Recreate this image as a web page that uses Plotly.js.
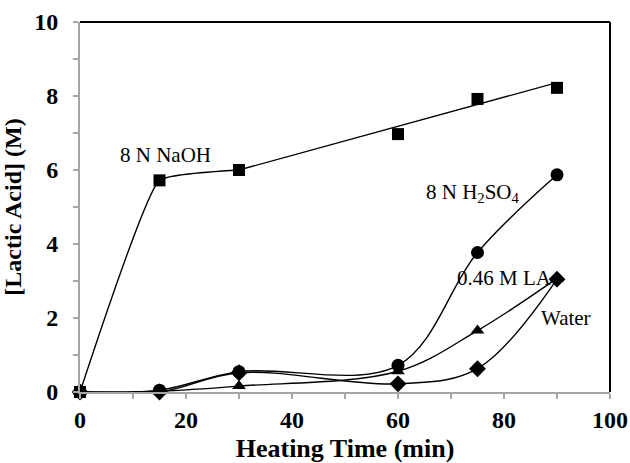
<!DOCTYPE html>
<html>
<head>
<meta charset="utf-8">
<script src="https://cdn.plot.ly/plotly-3.0.1.min.js"></script>
<style>html,body{margin:0;padding:0;background:#fff;}#chart{width:630px;height:463px;}</style>
</head>
<body>
<div id="chart"></div>
<script>
// Heating time (min)
var timeMin = [0, 15, 30, 60, 75, 90];
// Lactic acid concentration (M)
var naoh = [0, 5.72, 6.0, 6.97, 7.92, 8.22];
var h2so4 = [0, 0.05, 0.55, 0.72, 3.77, 5.87];
var la046 = [0, 0.02, 0.16, 0.56, 1.66, 3.07];
var water = [0, 0.0, 0.52, 0.22, 0.63, 3.05];
// NaOH fitted curve (smoothed start, linear after 30 min)
var naohCurveX = [0, 15, 30];
var naohCurveY = [0, 5.72, 6.0];
var naohLineX = [30, 90];
var naohLineY = [6.0, 8.36];
// Series labels
var labelText = ['8 N NaOH', '8 N H<sub>2</sub>SO<sub>4</sub>', '0.46 M LA', 'Water'];
var labelX = [16.2, 74.2, 80.0, 91.7];
var labelY = [6.4, 5.38, 3.07, 2.0];

var serif = 'Liberation Serif';
var lineStyle = {color: '#000', width: 1.4};

var traces = [
  {x: naohCurveX, y: naohCurveY, mode: 'lines', line: Object.assign({shape: 'spline', smoothing: 0.35}, lineStyle), hoverinfo: 'skip'},
  {x: naohLineX, y: naohLineY, mode: 'lines', line: lineStyle, hoverinfo: 'skip'},
  {x: timeMin, y: water, mode: 'lines+markers', line: Object.assign({shape: 'spline', smoothing: 1}, lineStyle), marker: {symbol: 'diamond', size: 13, color: '#000'}},
  {x: timeMin, y: la046, mode: 'lines+markers', line: Object.assign({shape: 'spline', smoothing: 1}, lineStyle), marker: {symbol: 'triangle-up', size: 12, color: '#000'}},
  {x: timeMin, y: h2so4, mode: 'lines+markers', line: Object.assign({shape: 'spline', smoothing: 1}, lineStyle), marker: {symbol: 'circle', size: 13, color: '#000'}},
  {x: timeMin, y: naoh, mode: 'markers', marker: {symbol: 'square', size: 12, color: '#000'}}
];
traces.forEach(function(t){ t.cliponaxis = false; t.showlegend = false; });

var annotations = labelText.map(function(txt, i){
  return {x: labelX[i], y: labelY[i], xref: 'x', yref: 'y', text: txt, showarrow: false,
          font: {family: serif, size: 21, color: '#000'}, xanchor: 'center', yanchor: 'middle'};
});

var layout = {
  width: 630, height: 463,
  margin: {l: 80, r: 20, t: 22, b: 71},
  paper_bgcolor: '#fff', plot_bgcolor: '#fff',
  showlegend: false,
  xaxis: {
    range: [0, 100], dtick: 20, tick0: 0,
    showgrid: false, zeroline: false,
    showline: true, linecolor: '#a6a6a6', linewidth: 2,
    ticks: 'outside', ticklen: 5, tickcolor: '#a6a6a6', tickwidth: 1.5,
    minor: {dtick: 10, ticks: 'outside', ticklen: 5, tickcolor: '#a6a6a6', tickwidth: 1.5, showgrid: false},
    tickfont: {family: serif, size: 24, color: '#000', weight: 'bold'},
    ticklabelstandoff: 0,
    title: {text: 'Heating Time (min)', font: {family: serif, size: 26, color: '#000', weight: 'bold'}, standoff: 14},
    automargin: false,
    fixedrange: true
  },
  yaxis: {
    range: [0, 10], dtick: 2, tick0: 0,
    showgrid: false, zeroline: false,
    showline: true, linecolor: '#a6a6a6', linewidth: 2,
    ticks: 'outside', ticklen: 5, tickcolor: '#a6a6a6', tickwidth: 1.5,
    minor: {dtick: 1, ticks: 'outside', ticklen: 5, tickcolor: '#a6a6a6', tickwidth: 1.5, showgrid: false},
    tickfont: {family: serif, size: 24, color: '#000', weight: 'bold'},
    ticklabelstandoff: 10,
    title: {text: '[Lactic Acid] (M)', font: {family: serif, size: 24, color: '#000', weight: 'bold'}, standoff: 10},
    automargin: false,
    fixedrange: true
  },
  shapes: [
    {type: 'line', xref: 'paper', yref: 'paper', x0: 0, x1: 1, y0: 1, y1: 1, line: {color: '#000', width: 2}},
    {type: 'line', xref: 'paper', yref: 'paper', x0: 1, x1: 1, y0: 0, y1: 1, line: {color: '#000', width: 2}}
  ],
  annotations: annotations
};

Plotly.newPlot('chart', traces, layout, {displayModeBar: false, staticPlot: true});
</script>
</body>
</html>
